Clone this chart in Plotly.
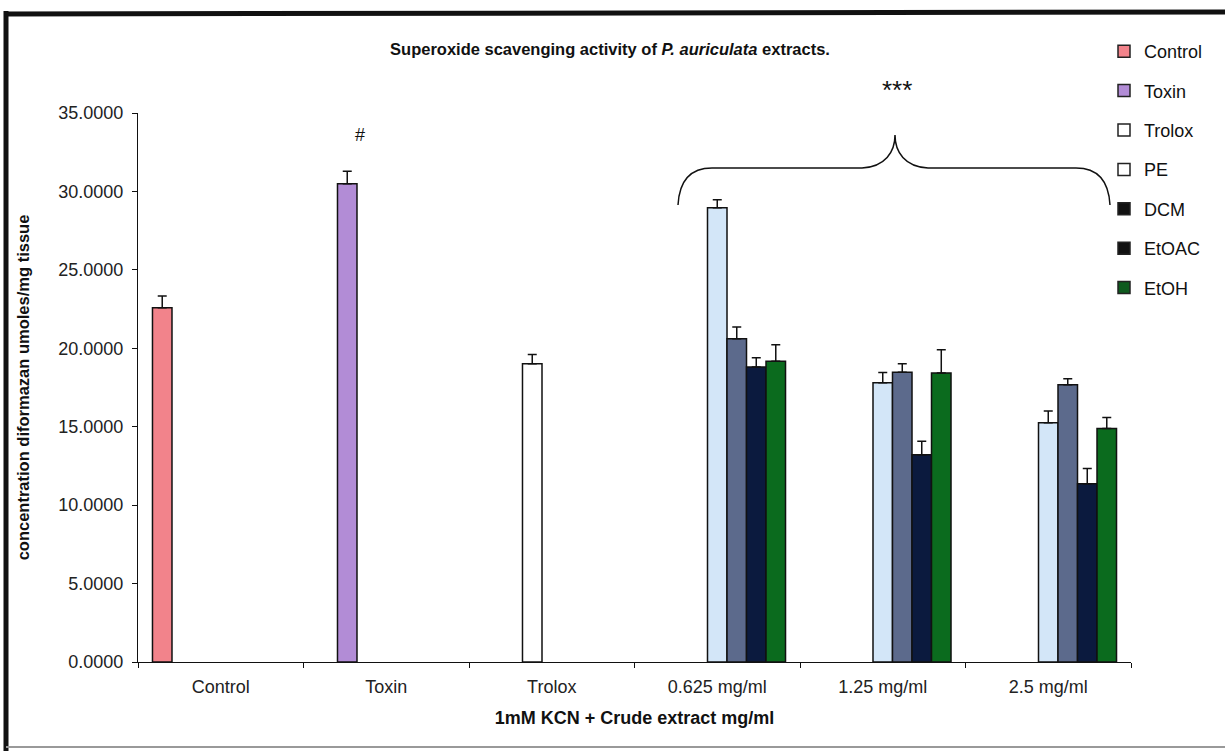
import plotly.graph_objects as go

categories = ["Control", "Toxin", "Trolox", "0.625 mg/ml", "1.25 mg/ml", "2.5 mg/ml"]
series_names = ["Control", "Toxin", "Trolox", "PE", "DCM", "EtOAC", "EtOH"]

control_vals = [22.59, None, None, None, None, None]
control_err = [0.74, None, None, None, None, None]
toxin_vals = [None, 30.49, None, None, None, None]
toxin_err = [None, 0.80, None, None, None, None]
trolox_vals = [None, None, 19.02, None, None, None]
trolox_err = [None, None, 0.59, None, None, None]
pe_vals = [None, None, None, 28.96, 17.81, 15.26]
pe_err = [None, None, None, 0.51, 0.64, 0.74]
dcm_vals = [None, None, None, 20.61, 18.48, 17.68]
dcm_err = [None, None, None, 0.74, 0.54, 0.38]
etoac_vals = [None, None, None, 18.80, 13.22, 11.37]
etoac_err = [None, None, None, 0.60, 0.85, 0.96]
etoh_vals = [None, None, None, 19.17, 18.42, 14.88]
etoh_err = [None, None, None, 1.06, 1.49, 0.70]

bar_colors = ["#F2838B", "#B28CD6", "#FFFFFF", "#D3E6F8", "#5C6A8C", "#0B1A3E", "#0B6B1E"]
legend_colors = ["#F2838B", "#B28CD6", "#FFFFFF", "#FFFFFF", "#111111", "#111111", "#0E5A1E"]

values = [control_vals, toxin_vals, trolox_vals, pe_vals, dcm_vals, etoac_vals, etoh_vals]
errors = [control_err, toxin_err, trolox_err, pe_err, dcm_err, etoac_err, etoh_err]

FONT = "Liberation Sans, Arial, sans-serif"

fig = go.Figure()
for name, vals, errs, col in zip(series_names, values, errors, bar_colors):
    fig.add_trace(go.Bar(
        x=categories, y=vals, name=name, showlegend=False,
        marker=dict(color=col, line=dict(color="#111111", width=1.5)),
        error_y=dict(type="data", array=errs, arrayminus=[0] * len(errs),
                     symmetric=False, color="#111111", thickness=1.5, width=4.5),
    ))

# legend entries (square swatches as in the reference legend)
for name, col in zip(series_names, legend_colors):
    fig.add_trace(go.Scatter(
        x=[None], y=[None], mode="markers", name=name, legendgroup=name,
        marker=dict(symbol="square", size=12, color=col, line=dict(color="#222222", width=1.5)),
    ))

# plot area pixel geometry: x 138..1131, y 113..662
L, R, T, B = 138, 1131, 113, 662
def px(x):
    return (x - L) / (R - L)
def py(y):
    return (B - y) / (B - T)

brace = (
    f"M {px(678)},{py(205)} "
    f"Q {px(680)},{py(168)} {px(712)},{py(168)} "
    f"L {px(862)},{py(168)} "
    f"C {px(885)},{py(167)} {px(895)},{py(152)} {px(895)},{py(135)} "
    f"C {px(895)},{py(152)} {px(905)},{py(167)} {px(928)},{py(168)} "
    f"L {px(1076)},{py(168)} "
    f"Q {px(1108)},{py(168)} {px(1110)},{py(205)}"
)

shapes = [
    dict(type="path", xref="paper", yref="paper", path=brace,
         line=dict(color="#111111", width=1.5)),
    # scanned frame: left and top thick borders, thin bottom
    dict(type="line", xref="paper", yref="paper", x0=px(6), x1=px(6), y0=py(11), y1=py(751),
         line=dict(color="#111111", width=5)),
    dict(type="line", xref="paper", yref="paper", x0=px(4), x1=px(1225), y0=py(14), y1=py(12),
         line=dict(color="#111111", width=5)),
    dict(type="line", xref="paper", yref="paper", x0=px(6), x1=px(1225), y0=py(747), y1=py(747),
         line=dict(color="#999999", width=2)),
]

annotations = [
    dict(text="#", xref="paper", yref="paper", x=px(360), y=py(135), showarrow=False,
         xanchor="center", yanchor="middle",
         font=dict(family=FONT, size=18, color="#111111")),
    dict(text="***", xref="paper", yref="paper", x=px(897), y=py(90), showarrow=False,
         xanchor="center", yanchor="middle",
         font=dict(family=FONT, size=26, color="#111111")),
]

fig.update_layout(
    width=1225, height=751,
    margin=dict(l=L, r=1225 - R, t=T, b=751 - B),
    paper_bgcolor="white", plot_bgcolor="white",
    barmode="group", bargap=0.175, bargroupgap=0,
    font=dict(family=FONT, size=16, color="#111111"),
    title=dict(text="<b>Superoxide scavenging activity of <i>P. auriculata</i> extracts.</b>",
               x=610 / 1225, xanchor="center", y=1 - 49 / 751, yanchor="middle",
               font=dict(family=FONT, size=16.5, color="#111111")),
    xaxis=dict(
        showline=True, linecolor="#111111", linewidth=1,
        ticks="outside", tickson="boundaries", ticklen=5, tickcolor="#111111",
        ticklabelstandoff=8,
        showgrid=False, tickfont=dict(family=FONT, size=18, color="#222222"),
        title=dict(text="<b>1mM KCN + Crude extract mg/ml</b>", standoff=15,
                   font=dict(family=FONT, size=18, color="#111111")),
    ),
    yaxis=dict(
        range=[0, 35], dtick=5, tickformat=".4f",
        showline=True, linecolor="#111111", linewidth=1,
        ticks="outside", ticklen=5, tickcolor="#111111",
        ticklabelstandoff=5,
        showgrid=False, zeroline=False, tickfont=dict(family=FONT, size=18, color="#222222"),
        title=dict(text="<b>concentration diformazan umoles/mg tissue</b>", standoff=24,
                   font=dict(family=FONT, size=16.5, color="#111111")),
    ),
    legend=dict(x=px(1104), y=py(33), xanchor="left", yanchor="top",
                traceorder="grouped", tracegroupgap=13, itemwidth=30,
                font=dict(family=FONT, size=18, color="#111111"),
                bgcolor="rgba(0,0,0,0)"),
    shapes=shapes, annotations=annotations,
)

fig.write_html("out.html", config={"displayModeBar": False},
               post_script="document.body.style.margin='0px';")
